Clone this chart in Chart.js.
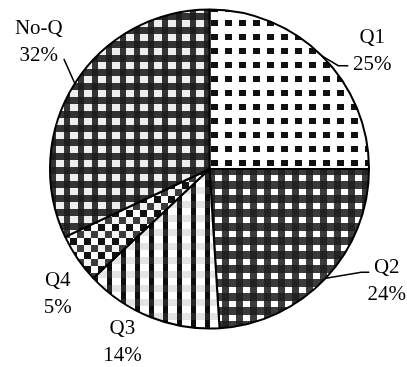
<!DOCTYPE html>
<html>
<head>
<meta charset="utf-8">
<script src="https://cdn.jsdelivr.net/npm/chart.js@4/dist/chart.umd.min.js"></script>
<style>
  html, body { margin: 0; padding: 0; background: #fff; }
  #wrap { width: 407px; height: 367px; position: relative; }
</style>
</head>
<body>
<div id="wrap"><canvas id="c"></canvas></div>
<script>
// Share of responses by quartile group
const categories = ['Q1', 'Q2', 'Q3', 'Q4', 'No-Q'];
const shares = [25, 24, 14, 5, 32];
const shareLabels = shares.map(v => v + '%');

const canvas = document.getElementById('c');
const ctx = canvas.getContext('2d');

// Build a repeating fill from a small tile; rects wrap around the tile edge.
function tile(size, bg, rects) {
  const t = document.createElement('canvas');
  t.width = t.height = size;
  const g = t.getContext('2d');
  g.fillStyle = bg;
  g.fillRect(0, 0, size, size);
  rects.forEach(([x, y, w, h, col]) => {
    g.fillStyle = col;
    for (const ox of [0, -size]) for (const oy of [0, -size]) g.fillRect(x + ox, y + oy, w, h);
  });
  return ctx.createPattern(t, 'repeat');
}

// Gingham: light cells where no band, mid tone where one band, dark where both cross
function gingham(size, light, one, both, wx, ww, wy, wh) {
  const rects = [];
  for (let y = 0; y < size; y++) {
    for (let x = 0; x < size; x++) {
      const inX = ((x - wx + size) % size) < ww;
      const inY = ((y - wy + size) % size) < wh;
      const col = inX && inY ? light : (inX || inY ? one : both);
      rects.push([x, y, 1, 1, col]);
    }
  }
  return tile(size, light, rects);
}

const P = 14;
const fills = [
  // Q1: black blocks on white
  tile(P, '#ffffff', [[1, 6, 7, 6, '#111111']]),
  // Q2: dark gingham with white windows
  gingham(P, '#ffffff', '#3b3b3b', '#222222', 5, 7, 7, 6),
  // Q3: vertical bars with faint horizontal bands
  (function () {
    const r = [];
    for (let y = 0; y < P; y++) {
      const band = ((y - 5 + P) % P) < 7;
      r.push([0, y, 9, 1, band ? '#e4e4e4' : '#ffffff']);
      r.push([9, y, 5, 1, band ? '#262626' : '#0e0e0e']);
    }
    return tile(P, '#ffffff', r);
  })(),
  // Q4: small checkerboard
  tile(P, '#ffffff', [[0, 0, 7, 7, '#111111'], [7, 7, 7, 7, '#3c3c3c'], [0, 7, 7, 7, '#f2f2f2']]),
  // No-Q: gingham with pale windows
  gingham(P, '#eeeeee', '#333333', '#1e1e1e', 0, 8, 6, 7)
];

// Where each label sits relative to the rim point at its slice's mid angle,
// plus optional leader line points (same relative frame).
const labelLayout = [
  { dx: 50, dy: -13, leader: [[16, 9.5], [26, 9.5]] },
  { dx: 61, dy: -5, leader: [[35.5, -6], [43.5, -6]] },
  { dx: -28.4, dy: 16.7 },
  { dx: -19.8, dy: 27.8 },
  { dx: -36, dy: -49.7, leader: [[-11, -24.7]] }
];

const sliceLabels = {
  id: 'sliceLabels',
  afterDatasetsDraw(chart) {
    const c = chart.ctx;
    const meta = chart.getDatasetMeta(0);
    c.save();
    c.font = '21px "Liberation Serif", "Times New Roman", serif';
    c.fillStyle = '#000';
    c.textAlign = 'center';
    c.textBaseline = 'alphabetic';
    c.strokeStyle = '#000';
    c.lineWidth = 1.5;
    meta.data.forEach((arc, i) => {
      const p = arc.getProps(['x', 'y', 'startAngle', 'endAngle', 'outerRadius'], true);
      const mid = (p.startAngle + p.endAngle) / 2;
      const ax = p.x + Math.cos(mid) * p.outerRadius;
      const ay = p.y + Math.sin(mid) * p.outerRadius;
      const L = labelLayout[i];
      if (L.leader) {
        c.beginPath();
        c.moveTo(ax, ay);
        L.leader.forEach(([lx, ly]) => c.lineTo(ax + lx, ay + ly));
        c.stroke();
      }
      c.fillText(categories[i], ax + L.dx, ay + L.dy);
      c.fillText(shareLabels[i], ax + L.dx, ay + L.dy + 27);
    });
    c.restore();
  }
};

new Chart(canvas, {
  type: 'pie',
  data: {
    labels: categories,
    datasets: [{
      data: shares,
      backgroundColor: fills,
      borderColor: '#000000',
      borderWidth: 2,
      hoverOffset: 0,
      offset: 0
    }]
  },
  options: {
    responsive: true,
    maintainAspectRatio: false,
    animation: false,
    events: [],
    layout: { padding: { left: 49, right: 37, top: 8.5, bottom: 37.5 } },
    plugins: {
      legend: { display: false },
      tooltip: { enabled: false }
    }
  },
  plugins: [sliceLabels]
});
</script>
</body>
</html>
